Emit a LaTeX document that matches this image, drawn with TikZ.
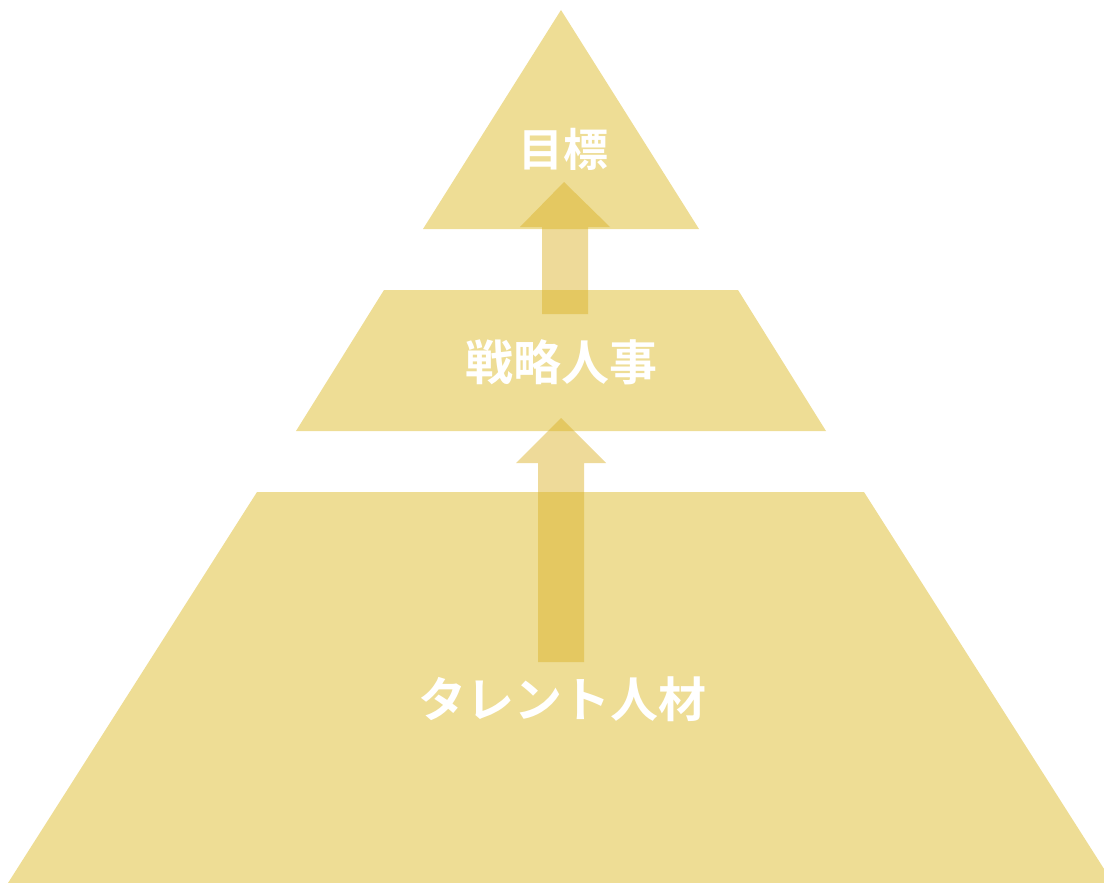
\documentclass[tikz,border=0pt]{standalone}
\usepackage{fontspec}
\newfontfamily\jpfont{Noto Sans CJK JP}[BoldFont={* Bold}]
\definecolor{pyr}{RGB}{238,221,149}
\definecolor{arr}{RGB}{219,178,41}
\begin{document}
\begin{tikzpicture}[x=1pt,y=-1pt,
  tier/.style={fill=pyr,draw=none},
  uparrow/.style={fill=arr,fill opacity=0.48,draw=none},
  lbl/.style={text=white,font=\jpfont\bfseries\fontsize{48}{48}\selectfont,inner sep=0pt}]
\useasboundingbox (0,0) rectangle (1104,883);
% tiers
\fill[tier] (561,10) -- (699,229) -- (423,229) -- cycle;
\fill[tier] (384,290) -- (738,290) -- (826,431) -- (296,431) -- cycle;
\fill[tier] (257,492) -- (864,492) -- (1113,883) -- (8,883) -- cycle;
% arrows
\fill[uparrow] (542,314) -- (542,227) -- (520,227) -- (564,182) -- (610,227) -- (588,227) -- (588,314) -- cycle;
\fill[uparrow] (538,662) -- (538,463) -- (516,463) -- (561,418) -- (606,463) -- (584,463) -- (584,662) -- cycle;
% labels
\node[lbl,font=\jpfont\bfseries\fontsize{45}{45}\selectfont] (goal) at (563,149) {目標};
\node[lbl] (strat) at (561,362) {戦略人事};
\node[lbl] (talent) at (562,699) {タレント人材};
\end{tikzpicture}
\end{document}
